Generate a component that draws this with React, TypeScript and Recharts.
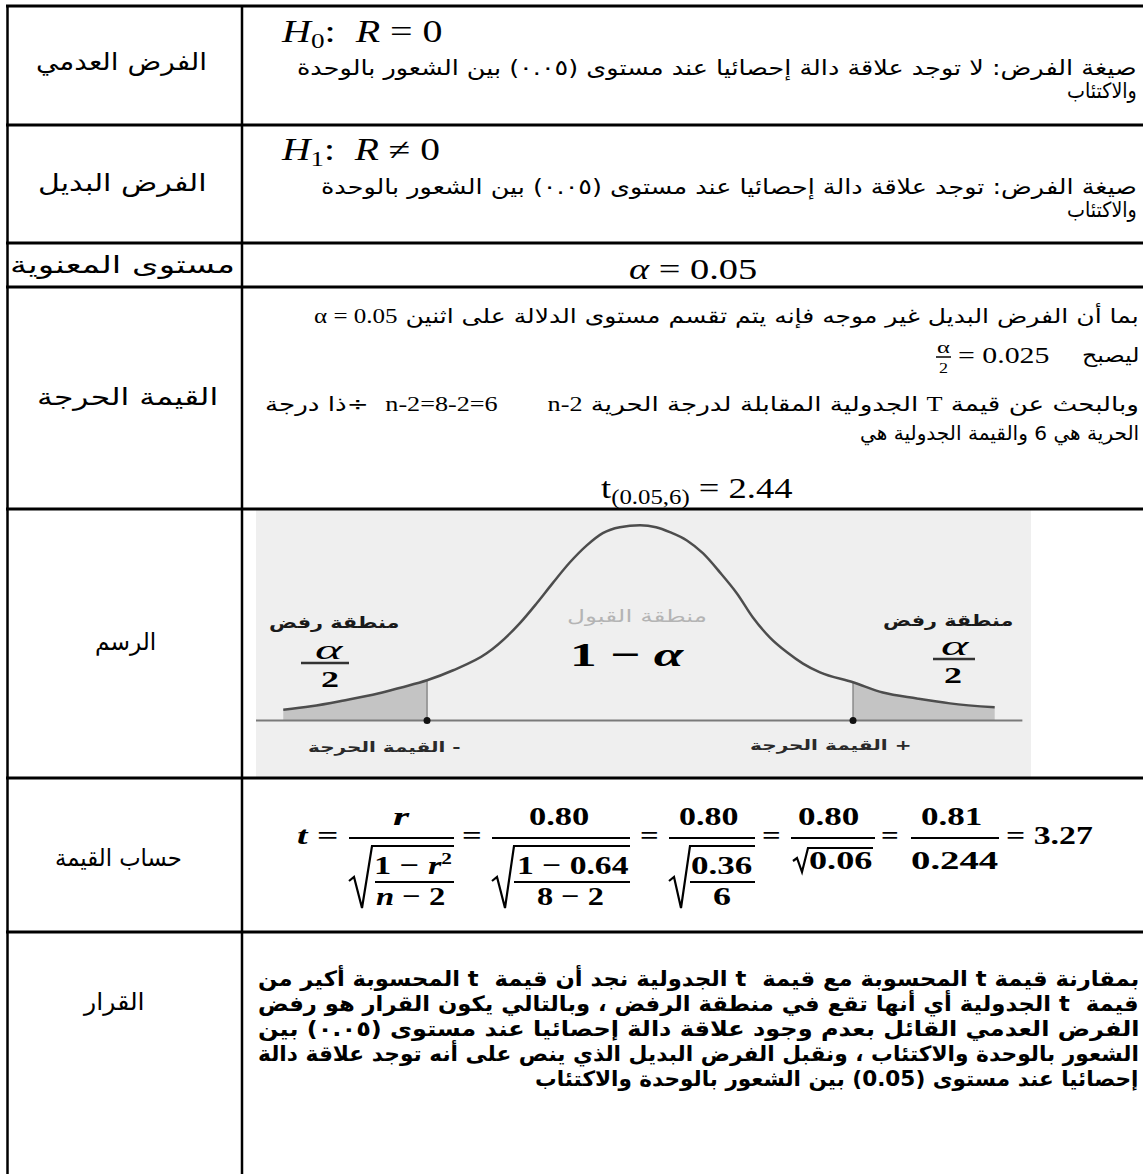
import React, { useLayoutEffect, useRef, useState } from 'react';
import {
    ComposedChart,
    Area,
    Line,
    XAxis,
    YAxis,
    ReferenceLine,
    ReferenceDot
} from 'recharts';

// curve: t position -> height of the curve
const tValues = [-3.35, -3.09, -2.78, -2.46, -2.25, -2.0, -1.76, -1.44, -1.13, -0.97, -0.82, -0.66, -0.5, -0.35, -0.19, 0, 0.15, 0.28, 0.44, 0.59, 0.75, 0.91, 1.06, 1.22, 1.38, 1.53, 1.69, 2.0, 2.28, 2.6, 2.91, 3.33];
const density = [0.022, 0.029, 0.041, 0.055, 0.067, 0.082, 0.102, 0.137, 0.198, 0.239, 0.28, 0.322, 0.357, 0.382, 0.394, 0.398, 0.394, 0.384, 0.367, 0.341, 0.302, 0.259, 0.21, 0.169, 0.139, 0.116, 0.098, 0.078, 0.057, 0.045, 0.035, 0.027];
const criticalT = [-2, 2];

const rowLabels = ['الفرض العدمي', 'الفرض البديل', 'مستوى المعنوية', 'القيمة الحرجة', 'الرسم', 'حساب القيمة', 'القرار'];

const decisionLines = [
    'بمقارنة قيمة t المحسوبة مع قيمة  t الجدولية نجد أن قيمة  t المحسوبة أكير من',
    'قيمة  t الجدولية أي أنها تقع في منطقة الرفض ، وبالتالي يكون القرار هو رفض',
    'الفرض العدمي القائل بعدم وجود علاقة دالة إحصائيا عند مستوى (٠.٠٥) بين',
    'الشعور بالوحدة والاكتئاب ، ونقبل الفرض البديل الذي ينص على أنه توجد علاقة دالة',
    'إحصائيا عند مستوى (0.05) بين الشعور بالوحدة والاكتئاب'
];

const T_MIN = -3.606;
const T_MAX = 3.671;
const Y_MIN = -0.115;
const Y_MAX = 0.429;
const AXIS_END = 3.59;

const chartData = tValues.map((t, i) => ({
    t,
    density: density[i],
    leftTail: t <= criticalT[0] ? density[i] : null,
    rightTail: t >= criticalT[1] ? density[i] : null,
}));

const AR = '"DejaVu Sans", sans-serif';
const SERIF = '"Liberation Serif", "DejaVu Serif", serif';

type FitProps = {
    x1: number;
    x2: number;
    base: number;
    size: number;
    bold?: boolean;
    italic?: boolean;
    font?: string;
    color?: string;
    dir?: 'rtl' | 'ltr';
    children: React.ReactNode;
};

// one line of text stretched to the span it has in the scan
const Fit: React.FC<FitProps> = ({ x1, x2, base, size, bold, italic, font, color, dir = 'rtl', children }) => {
    const ref = useRef<HTMLDivElement>(null);
    const [k, setK] = useState(1);
    useLayoutEffect(() => {
        const el = ref.current;
        if (el && el.offsetWidth) setK((x2 - x1) / el.offsetWidth);
    }, [x1, x2]);
    return (
        <div
            ref={ref}
            dir={dir}
            style={{
                position: 'absolute',
                left: x1,
                top: base - size * 0.84,
                width: 'max-content',
                whiteSpace: 'pre',
                fontFamily: font || AR,
                fontSize: size,
                lineHeight: `${size}px`,
                fontWeight: bold ? 700 : 400,
                fontStyle: italic ? 'italic' : 'normal',
                color: color || '#000',
                transform: `scaleX(${k})`,
                transformOrigin: '0 0',
            }}
        >
            {children}
        </div>
    );
};

const I = ({ children }: { children: React.ReactNode }) => <span style={{ fontStyle: 'italic' }}>{children}</span>;
const Sub = ({ children }: { children: React.ReactNode }) => (
    <span style={{ fontSize: '0.68em', position: 'relative', top: '0.3em', fontStyle: 'normal' }}>{children}</span>
);
const Sup = ({ children }: { children: React.ReactNode }) => (
    <span style={{ fontSize: '0.62em', position: 'relative', top: '-0.6em', fontStyle: 'normal' }}>{children}</span>
);
const Ltr = ({ children }: { children: React.ReactNode }) => (
    <bdi dir="ltr" style={{ fontFamily: SERIF }}>{children}</bdi>
);

const BellChart: React.FC = () => (
    <ComposedChart width={775} height={267} data={chartData} margin={{ top: 0, right: 0, bottom: 0, left: 0 }}>
        <XAxis type="number" dataKey="t" domain={[T_MIN, T_MAX]} hide allowDataOverflow />
        <YAxis type="number" domain={[Y_MIN, Y_MAX]} hide allowDataOverflow />
        <Area
            type="monotone"
            dataKey="leftTail"
            baseValue={0}
            stroke="none"
            fill="#c4c4c4"
            fillOpacity={1}
            isAnimationActive={false}
        />
        <Area
            type="monotone"
            dataKey="rightTail"
            baseValue={0}
            stroke="none"
            fill="#c4c4c4"
            fillOpacity={1}
            isAnimationActive={false}
        />
        <ReferenceLine segment={[{ x: T_MIN, y: 0 }, { x: AXIS_END, y: 0 }]} stroke="#7a7a7a" strokeWidth={2} />
        <ReferenceLine segment={[{ x: criticalT[0], y: 0 }, { x: criticalT[0], y: density[5] }]} stroke="#8a8a8a" strokeWidth={1.5} />
        <ReferenceLine segment={[{ x: criticalT[1], y: 0 }, { x: criticalT[1], y: density[27] }]} stroke="#8a8a8a" strokeWidth={1.5} />
        <Line
            type="monotone"
            dataKey="density"
            stroke="#4d4d4d"
            strokeWidth={2.5}
            dot={false}
            isAnimationActive={false}
        />
        <ReferenceDot x={criticalT[0]} y={0} r={3.5} fill="#111" stroke="none" />
        <ReferenceDot x={criticalT[1]} y={0} r={3.5} fill="#111" stroke="none" />
    </ComposedChart>
);

const hLines = [6, 125, 243, 287, 509, 778, 932];

const App: React.FC = () => {
    return (
        <div style={{ position: 'absolute', left: 0, top: 0, width: 1143, height: 1174, background: '#fff', overflow: 'hidden' }}>
            {/* embedded bell curve picture */}
            <div style={{ position: 'absolute', left: 256, top: 510, width: 775, height: 267, background: '#efefef' }}>
                <BellChart />
            </div>

            {/* chart annotations */}
            <Fit x1={269} x2={399} base={628} size={16} bold color="#1a1a1a">منطقة رفض</Fit>
            <Fit x1={315} x2={343} base={660} size={28} italic font={SERIF} dir="ltr">α</Fit>
            <Fit x1={321} x2={339} base={687} size={24} bold font={SERIF} dir="ltr">2</Fit>
            <Fit x1={567} x2={707} base={622} size={17} color="#b4b4b4">منطقة القبول</Fit>
            <Fit x1={570} x2={683} base={667} size={34} bold font={SERIF} dir="ltr">1 − <I>α</I></Fit>
            <Fit x1={883} x2={1013} base={626} size={16} bold color="#1a1a1a">منطقة رفض</Fit>
            <Fit x1={941} x2={969} base={656} size={28} italic font={SERIF} dir="ltr">α</Fit>
            <Fit x1={944} x2={962} base={683} size={24} bold font={SERIF} dir="ltr">2</Fit>
            <Fit x1={308} x2={461} base={752} size={14} bold color="#2a2a2a">- القيمة الحرجة</Fit>
            <Fit x1={750} x2={912} base={750} size={14} bold color="#2a2a2a">+ القيمة الحرجة</Fit>

            {/* grid lines, fraction bars and radicals */}
            <svg width={1143} height={1174} style={{ position: 'absolute', left: 0, top: 0 }}>
                {hLines.map((y) => (
                    <line key={y} x1={6} x2={1143} y1={y} y2={y} stroke="#000" strokeWidth={3} />
                ))}
                <line x1={7.5} x2={7.5} y1={5} y2={1174} stroke="#000" strokeWidth={2.5} />
                <line x1={242} x2={242} y1={5} y2={1174} stroke="#000" strokeWidth={2.5} />
                {/* alpha / 2 bars in the picture */}
                <line x1={301} x2={349} y1={663} y2={663} stroke="#333" strokeWidth={2.5} />
                <line x1={933} x2={975} y1={659} y2={659} stroke="#333" strokeWidth={2.5} />
                {/* alpha / 2 in the critical value row */}
                <line x1={936} x2={951} y1={357} y2={357} stroke="#000" strokeWidth={1.5} />
                {/* t formula */}
                <g stroke="#000" strokeWidth={2.2} fill="none">
                    <line x1={349} x2={454} y1={838} y2={838} />
                    <line x1={492} x2={630} y1={838} y2={838} />
                    <line x1={669} x2={755} y1={838} y2={838} />
                    <line x1={791} x2={875} y1={838} y2={838} />
                    <line x1={911} x2={999} y1={838} y2={838} />
                    <line x1={375} x2={454} y1={882} y2={882} />
                    <line x1={514} x2={630} y1={882} y2={882} />
                    <line x1={690} x2={755} y1={882} y2={882} />
                    <polyline points="349,881 354,877 362,908 372,846 454,846" />
                    <polyline points="492,881 497,877 505,908 514,846 630,846" />
                    <polyline points="669,881 674,877 681,908 690,846 755,846" />
                    <polyline points="793,861 797,858 802,872 808,848 873,848" />
                </g>
            </svg>

            {/* row labels */}
            <Fit x1={36} x2={207} base={70} size={24}>{rowLabels[0]}</Fit>
            <Fit x1={38} x2={207} base={191} size={24}>{rowLabels[1]}</Fit>
            <Fit x1={10} x2={235} base={273} size={24}>{rowLabels[2]}</Fit>
            <Fit x1={37} x2={218} base={405} size={24}>{rowLabels[3]}</Fit>
            <Fit x1={95} x2={156} base={650} size={24}>{rowLabels[4]}</Fit>
            <Fit x1={55} x2={182} base={866} size={24}>{rowLabels[5]}</Fit>
            <Fit x1={84} x2={145} base={1010} size={24}>{rowLabels[6]}</Fit>

            {/* null hypothesis */}
            <Fit x1={282} x2={442} base={42} size={31} font={SERIF} dir="ltr"><I>H</I><Sub>0</Sub>:  <I>R</I> = 0</Fit>
            <Fit x1={297} x2={1137} base={76} size={21}>صيغة الفرض: لا توجد علاقة دالة إحصائيا عند مستوى (٠.٠٥) بين الشعور بالوحدة</Fit>
            <Fit x1={1067} x2={1137} base={99} size={21}>والاكتئاب</Fit>

            {/* alternative hypothesis */}
            <Fit x1={282} x2={440} base={160} size={31} font={SERIF} dir="ltr"><I>H</I><Sub>1</Sub>:  <I>R</I> ≠ 0</Fit>
            <Fit x1={321} x2={1137} base={195} size={21}>صيغة الفرض: توجد علاقة دالة إحصائيا عند مستوى (٠.٠٥) بين الشعور بالوحدة</Fit>
            <Fit x1={1067} x2={1137} base={218} size={21}>والاكتئاب</Fit>

            {/* significance level */}
            <Fit x1={629} x2={757} base={279} size={30} font={SERIF} dir="ltr"><I>α</I> = 0.05</Fit>

            {/* critical value */}
            <Fit x1={314} x2={1139} base={323} size={20}>بما أن الفرض البديل غير موجه فإنه يتم تقسم مستوى الدلالة على اثنين <Ltr>α = 0.05</Ltr></Fit>
            <Fit x1={1082} x2={1139} base={362} size={20}>ليصبح</Fit>
            <Fit x1={958} x2={1050} base={363} size={24} font={SERIF} dir="ltr">= 0.025</Fit>
            <Fit x1={937} x2={950} base={353} size={17} font={SERIF} dir="ltr">α</Fit>
            <Fit x1={939} x2={948} base={374} size={14} font={SERIF} dir="ltr">2</Fit>
            <Fit x1={265} x2={1139} base={411} size={20}>
                وبالبحث عن قيمة <span style={{ fontFamily: SERIF }}>T</span> الجدولية المقابلة لدرجة الحرية <Ltr>n-2</Ltr>{'      '}<Ltr>n-2=8-2=6</Ltr>{'  '}÷ذا درجة
            </Fit>
            <Fit x1={860} x2={1139} base={440} size={20}>الحرية هي 6 والقيمة الجدولية هي</Fit>
            <Fit x1={601} x2={792} base={498} size={30} font={SERIF} dir="ltr">t<Sub>(0.05,6)</Sub> = 2.44</Fit>

            {/* t statistic */}
            <Fit x1={297} x2={339} base={845} size={26} bold font={SERIF} dir="ltr"><I>t</I> =</Fit>
            <Fit x1={393} x2={409} base={826} size={26} bold font={SERIF} dir="ltr"><I>r</I></Fit>
            <Fit x1={374} x2={452} base={875} size={26} bold font={SERIF} dir="ltr">1 − <I>r</I><Sup>2</Sup></Fit>
            <Fit x1={376} x2={445} base={906} size={26} bold font={SERIF} dir="ltr"><I>n</I> − 2</Fit>
            <Fit x1={462} x2={482} base={845} size={26} bold font={SERIF} dir="ltr">=</Fit>
            <Fit x1={529} x2={590} base={826} size={26} bold font={SERIF} dir="ltr">0.80</Fit>
            <Fit x1={517} x2={628} base={875} size={26} bold font={SERIF} dir="ltr">1 − 0.64</Fit>
            <Fit x1={537} x2={604} base={906} size={26} bold font={SERIF} dir="ltr">8 − 2</Fit>
            <Fit x1={640} x2={659} base={845} size={26} bold font={SERIF} dir="ltr">=</Fit>
            <Fit x1={679} x2={739} base={826} size={26} bold font={SERIF} dir="ltr">0.80</Fit>
            <Fit x1={691} x2={753} base={875} size={26} bold font={SERIF} dir="ltr">0.36</Fit>
            <Fit x1={713} x2={731} base={906} size={26} bold font={SERIF} dir="ltr">6</Fit>
            <Fit x1={762} x2={781} base={845} size={26} bold font={SERIF} dir="ltr">=</Fit>
            <Fit x1={798} x2={860} base={826} size={26} bold font={SERIF} dir="ltr">0.80</Fit>
            <Fit x1={809} x2={873} base={870} size={26} bold font={SERIF} dir="ltr">0.06</Fit>
            <Fit x1={881} x2={899} base={845} size={26} bold font={SERIF} dir="ltr">=</Fit>
            <Fit x1={921} x2={983} base={826} size={26} bold font={SERIF} dir="ltr">0.81</Fit>
            <Fit x1={911} x2={999} base={870} size={26} bold font={SERIF} dir="ltr">0.244</Fit>
            <Fit x1={1006} x2={1093} base={845} size={26} bold font={SERIF} dir="ltr">= 3.27</Fit>

            {/* decision */}
            {decisionLines.map((line, i) => (
                <Fit key={i} x1={i < 4 ? 258 : 535} x2={1139} base={987 + i * 25} size={21} bold>{line}</Fit>
            ))}
        </div>
    );
};

export default App;
